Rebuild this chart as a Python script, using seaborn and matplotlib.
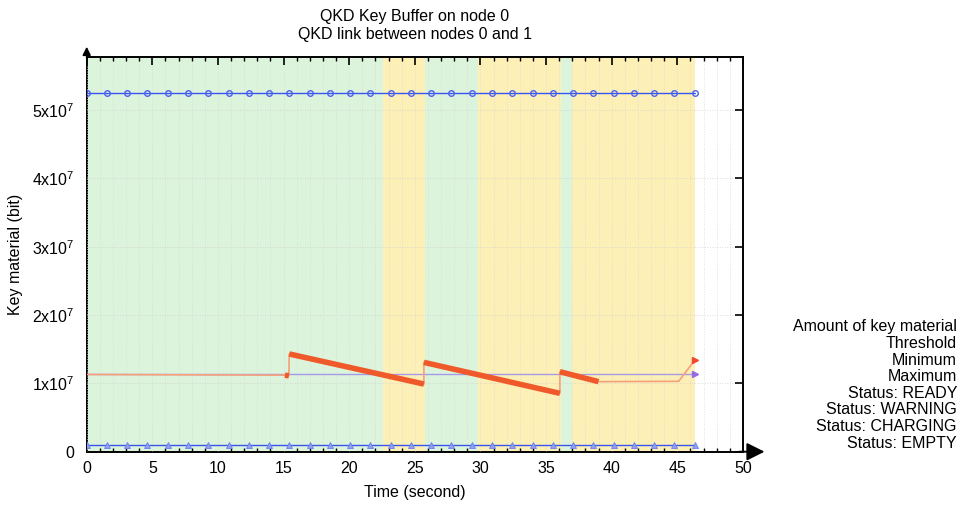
import matplotlib
matplotlib.use("Agg")
import matplotlib.pyplot as plt
import seaborn as sns
import pandas as pd
from matplotlib.ticker import MultipleLocator, FuncFormatter

# ---------------- data ----------------
title_lines = ["QKD Key Buffer on node 0", "QKD link between nodes 0 and 1"]
x_label = "Time (second)"
y_label = "Key material (bit)"
legend_labels = ["Amount of key material", "Threshold", "Minimum", "Maximum",
                 "Status: READY", "Status: WARNING", "Status: CHARGING", "Status: EMPTY"]

# amount of key material (bit) over time (s)
key_time = [0.0, 15.1, 15.4, 15.43, 25.69, 25.69, 36.05, 36.05, 38.99, 45.1, 46.33]
key_bits = [1.13e7, 1.12e7, 1.11e7, 1.43e7, 0.99e7, 1.307e7, 0.854e7, 1.17e7, 1.025e7, 1.03e7, 1.34e7]
# pairs of indices of densely sampled (thick) stretches
dense_segments = [(1, 2), (3, 4), (5, 6), (7, 8)]

threshold_time = [0.0, 46.33]
threshold_bits = [1.13e7, 1.13e7]

marker_time = [0, 1.54, 3.09, 4.63, 6.18, 7.72, 9.26, 10.81, 12.35, 13.9, 15.44,
               16.98, 18.53, 20.07, 21.62, 23.16, 24.7, 26.25, 27.79, 29.34, 30.88,
               32.42, 33.97, 35.51, 37.06, 38.6, 40.14, 41.69, 43.23, 44.77, 46.33]
maximum_bits = [5.25e7] * len(marker_time)
minimum_bits = [1.0e6] * len(marker_time)

# status intervals (start, end, status)
status_start = [0.0, 22.59, 25.77, 29.78, 36.1, 36.96]
status_end = [22.59, 25.77, 29.78, 36.1, 36.96, 46.33]
status_name = ["READY", "WARNING", "READY", "WARNING", "READY", "WARNING"]

x_limits = [0, 50]
y_limits = [0, 5.775e7]

# ---------------- style ----------------
sns.set_theme(style="white")
plt.rcParams["font.family"] = ["Liberation Sans", "DejaVu Sans"]
plt.rcParams["mathtext.default"] = "regular"
plt.rcParams["text.color"] = "black"
plt.rcParams["axes.labelcolor"] = "black"
plt.rcParams["xtick.color"] = "black"
plt.rcParams["ytick.color"] = "black"

status_color = {"READY": "#dcf3dc", "WARNING": "#fdf0b6"}
FS = 11.5

fig = plt.figure(figsize=(9.61, 5.05), dpi=100)
ax = fig.add_axes([86.7 / 961, 1 - 451.7 / 505, (743 - 86.7) / 961, (451.7 - 57) / 505])

for s, e, n in zip(status_start, status_end, status_name):
    ax.axvspan(s, e, color=status_color[n], lw=0, zorder=0)

# max / min
df_max = pd.DataFrame({"t": marker_time, "v": maximum_bits})
df_min = pd.DataFrame({"t": marker_time, "v": minimum_bits})
sns.lineplot(data=df_max, x="t", y="v", ax=ax, color="#3a55ee", lw=1.0,
             marker="o", markersize=4, markerfacecolor="none",
             markeredgecolor="#4a62ee", markeredgewidth=1.0, zorder=4)
sns.lineplot(data=df_min, x="t", y="v", ax=ax, color="#3a55ee", lw=1.0,
             marker="^", markersize=4, markerfacecolor="#8fa0f2",
             markeredgecolor="#6a7ff0", markeredgewidth=0.6, zorder=4)

# threshold
df_thr = pd.DataFrame({"t": threshold_time, "v": threshold_bits})
sns.lineplot(data=df_thr, x="t", y="v", ax=ax, color="#a59ae8", lw=1.0, zorder=3)
ax.plot(threshold_time[-1:], threshold_bits[-1:], marker=">", ms=4,
        color="#9a6ae0", ls="none", zorder=5)

# key material thin line
df_key = pd.DataFrame({"t": key_time, "v": key_bits})
sns.lineplot(data=df_key, x="t", y="v", ax=ax, color="#f5a07a", lw=1.2, zorder=5,
             sort=False, estimator=None)
for i, j in dense_segments:
    ax.plot([key_time[i], key_time[j]], [key_bits[i], key_bits[j]],
            color="#f05a2a", lw=4.0, solid_capstyle="butt", zorder=6)
ax.plot(key_time[-1:], key_bits[-1:], marker=">", ms=4, color="#f04a2a",
        ls="none", zorder=7)

# axes
ax.set_xlim(*x_limits)
ax.set_ylim(*y_limits)
ax.xaxis.set_major_locator(MultipleLocator(5))
ax.xaxis.set_minor_locator(MultipleLocator(1))
ax.yaxis.set_major_locator(MultipleLocator(1e7))


def yfmt(v, pos):
    m = int(round(v / 1e7))
    return "0" if m == 0 else f"{m}x10$^{{7}}$"


ax.yaxis.set_major_formatter(FuncFormatter(yfmt))
ax.tick_params(axis="both", which="major", direction="in", length=6, width=1.2,
               labelsize=FS, top=True, right=True, color="black", labelcolor="black")
ax.tick_params(axis="x", which="minor", direction="in", length=3, width=1.0,
               top=True, bottom=True, color="black")
ax.tick_params(axis="x", which="major", pad=7)
ax.tick_params(axis="y", which="major", pad=9)

ax.grid(True, which="minor", axis="x", color="#d8d8d8", ls=(0, (1, 2)), lw=0.6)
ax.grid(True, which="major", axis="x", color="#d8d8d8", ls=(0, (1, 2)), lw=0.6)
ax.grid(True, which="major", axis="y", color="#d0d0d0", ls=(0, (1, 2)), lw=0.6)
ax.set_axisbelow(False)
for sp in ax.spines.values():
    sp.set_color("black")
    sp.set_linewidth(1.4)
    sp.set_visible(True)

ax.set_xlabel(x_label, fontsize=FS, labelpad=6, color="black")
ax.set_ylabel(y_label, fontsize=FS, labelpad=6, color="black")
ax.set_title("\n".join(title_lines), fontsize=FS, pad=13, linespacing=1.25,
             color="black")

# axis arrows
ax.annotate("", xy=(1.037, 0), xytext=(0.99, 0), xycoords="axes fraction",
            arrowprops=dict(arrowstyle="-|>,head_length=0.9,head_width=0.45",
                            color="black", lw=1.4), annotation_clip=False)
ax.annotate("", xy=(0, 1.033), xytext=(0, 0.99), xycoords="axes fraction",
            arrowprops=dict(arrowstyle="-|>,head_length=0.4,head_width=0.2",
                            color="black", lw=1.2), annotation_clip=False)

# legend (text only, right aligned)
for k, lab in enumerate(legend_labels):
    fig.text(957 / 961, 1 - (327 + 16.6 * k) / 505, lab, ha="right", va="center",
             fontsize=FS, color="black")

fig.savefig("out.png", dpi=100)
